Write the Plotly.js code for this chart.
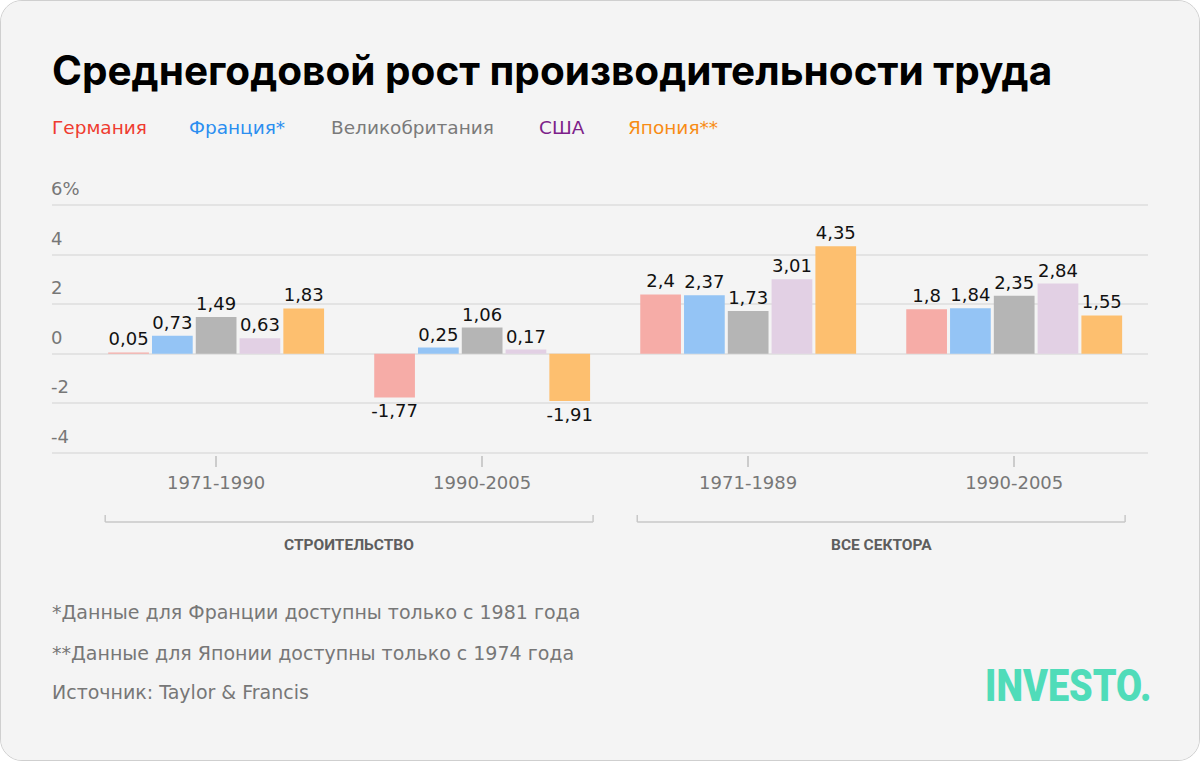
<!DOCTYPE html>
<html>
<head>
<meta charset="utf-8">
<script src="https://cdn.plot.ly/plotly-3.0.1.min.js"></script>
<style>
  html, body { margin: 0; padding: 0; background: #ffffff; }
  #card {
    position: absolute; left: 0; top: 0;
    width: 1200px; height: 761px; box-sizing: border-box;
    border: 1px solid #cfcfcf; border-radius: 22px; overflow: hidden;
    background: #f4f4f4;
  }
  #chart { width: 1198px; height: 759px; }
  #logo {
    position: absolute; left: 984px; top: 662px;
    font-family: Roboto, sans-serif; font-weight: 900; font-size: 45px;
    line-height: 45px; color: #50dcb9; transform-origin: 0 0; transform: scaleX(0.84);
    white-space: nowrap;
  }
</style>
</head>
<body>
<div id="card"><div id="chart"></div><div id="logo">INVESTO.</div></div>
<script>
// ---- data ----
const periods = ["1971-1990", "1990-2005", "1971-1989", "1990-2005"];
const groups = ["СТРОИТЕЛЬСТВО", "ВСЕ СЕКТОРА"];
const countries = ["Германия", "Франция*", "Великобритания", "США", "Япония**"];
const germany = [0.05, -1.77, 2.4, 1.8];
const france = [0.73, 0.25, 2.37, 1.84];
const uk = [1.49, 1.06, 1.73, 2.35];
const usa = [0.63, 0.17, 3.01, 2.84];
const japan = [1.83, -1.91, 4.35, 1.55];
const yTickVals = [6, 4, 2, 0, -2, -4];
const yTickText = ["6%", "4", "2", "0", "-2", "-4"];
const footnotes = [
  "*Данные для Франции доступны только с 1981 года",
  "**Данные для Японии доступны только с 1974 года",
  "Источник: Taylor & Francis"
];
const titleText = "Среднегодовой рост производительности труда";

// ---- styles ----
const barColors = ["#f6aca7", "#94c4f5", "#b5b5b5", "#e2d0e4", "#fdbf6f"];
const legendColors = ["#ef3b2f", "#2b8ef0", "#7a7a7a", "#7d1f8a", "#f88c14"];
const TFONT = "Inter, Roboto, sans-serif";
const FONT = "'DejaVu Sans', 'Noto Sans', sans-serif";
const series = [germany, france, uk, usa, japan];
const xIdx = periods.map((_, i) => i);

const fmt = v => String(v).replace('.', ',');

const traces = series.map((vals, k) => ({
  type: 'bar',
  x: xIdx,
  y: vals,
  name: countries[k],
  marker: { color: barColors[k] },
  text: vals.map(fmt),
  textposition: 'outside',
  constraintext: 'none',
  cliponaxis: false,
  textfont: { family: FONT, size: 18, color: '#111111' },
  hoverinfo: 'skip'
}));

// pixel -> paper helpers (plot area in page pixels: x 52..1148, y 203..455)
const PX0 = 52, PW = 1096, PYB = 455, PH = 252;
const px = x => (x - PX0) / PW;
const py = y => (PYB - y) / PH;

const annotations = [];
annotations.push({
  xref: 'paper', yref: 'paper', x: px(50), y: py(70),
  xanchor: 'left', yanchor: 'middle', showarrow: false,
  text: '<b>' + titleText + '</b>',
  font: { family: TFONT, size: 40.5, color: '#000000' }
});
const legendX = [50, 187, 329, 537, 626];
countries.forEach((c, k) => annotations.push({
  xref: 'paper', yref: 'paper', x: px(legendX[k]), y: py(128),
  xanchor: 'left', yanchor: 'middle', showarrow: false,
  text: c, font: { family: FONT, size: 18.5, color: legendColors[k] }
}));
yTickVals.forEach((v, k) => annotations.push({
  xref: 'paper', yref: 'y', x: px(49), y: v,
  xanchor: 'left', yanchor: 'bottom', yshift: 4, showarrow: false,
  text: yTickText[k], font: { family: FONT, size: 18, color: '#777777' }
}));
groups.forEach((g, k) => annotations.push({
  xref: 'x', yref: 'paper', x: 2 * k + 0.5, y: py(545),
  xanchor: 'center', yanchor: 'middle', showarrow: false,
  text: '<b>' + g + '</b>', font: { family: "Roboto, sans-serif", size: 15.5, color: '#5e5e5e' }
}));
const footY = [612, 653, 692];
footnotes.forEach((f, k) => annotations.push({
  xref: 'paper', yref: 'paper', x: px(50), y: py(footY[k]),
  xanchor: 'left', yanchor: 'middle', showarrow: false,
  text: f, font: { family: FONT, size: 19, color: '#777777' }
}));

const shapes = [];
const bracket = (a, b) => {
  const yTop = py(515), yLine = py(522);
  shapes.push({ type: 'line', xref: 'x', yref: 'paper', x0: a, x1: b, y0: yLine, y1: yLine, line: { color: '#c8c8c8', width: 1.5 } });
  shapes.push({ type: 'line', xref: 'x', yref: 'paper', x0: a, x1: a, y0: yTop, y1: yLine, line: { color: '#c8c8c8', width: 1.5 } });
  shapes.push({ type: 'line', xref: 'x', yref: 'paper', x0: b, x1: b, y0: yTop, y1: yLine, line: { color: '#c8c8c8', width: 1.5 } });
};
bracket(-0.417, 1.417);
bracket(1.583, 3.417);

const layout = {
  width: 1198, height: 759,
  margin: { l: 51, r: 51, t: 202, b: 305, pad: 0 },
  paper_bgcolor: '#f4f4f4', plot_bgcolor: '#f4f4f4',
  barmode: 'group', bargap: 0.177, bargroupgap: 0.07,
  showlegend: false,
  font: { family: FONT },
  xaxis: {
    range: [-0.617, 3.503],
    tickvals: xIdx, ticktext: periods,
    ticks: 'outside', ticklen: 11, tickwidth: 1.5, tickcolor: '#cccccc',
    tickfont: { family: FONT, size: 18, color: '#777777' },
    showgrid: false, zeroline: false, showline: false, fixedrange: true
  },
  yaxis: {
    range: [-4.1, 6.1],
    tickvals: yTickVals, showticklabels: false,
    showgrid: true, gridcolor: '#e3e3e3', gridwidth: 2,
    zeroline: true, zerolinecolor: '#e3e3e3', zerolinewidth: 2,
    showline: false, ticks: '', fixedrange: true
  },
  annotations: annotations,
  shapes: shapes
};

Plotly.newPlot('chart', traces, layout, { displayModeBar: false, staticPlot: true });
</script>
</body>
</html>
